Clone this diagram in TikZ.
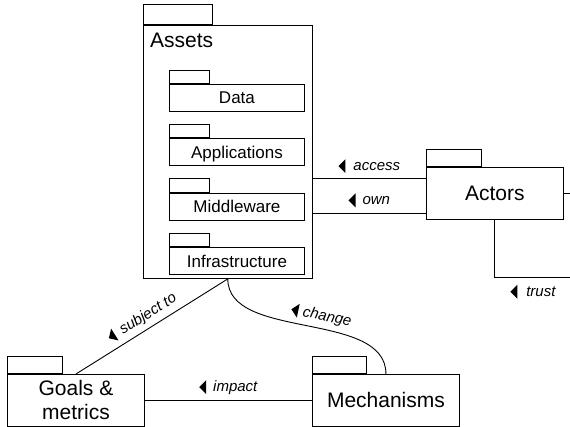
\documentclass[tikz,border=0pt]{standalone}
\usepackage{fontspec}
\setmainfont{Liberation Sans}
\usetikzlibrary{positioning,calc}

%% small filled triangle that shows the reading direction of a relation
\newcommand{\dirmark}{\tikz[baseline=-4.5pt]\fill (0pt,0pt) -- (7pt,7pt) -- (7pt,-7pt) -- cycle;}

\begin{document}
\begin{tikzpicture}[
  x=1pt, y=-1pt,
  pkg/.style={draw=black, line width=0.9pt, fill=white, inner sep=0pt, anchor=north west},
  tab/.style={draw=black, line width=0.9pt, inner sep=0pt, anchor=south west},
  big/.style={font=\fontsize{21}{24}\selectfont, align=center},
  sub/.style={pkg, minimum width=135pt, minimum height=27pt, text height=12pt, text depth=0pt,
              font=\fontsize{17}{20}\selectfont},
  rel/.style={font=\fontsize{15}{18}\selectfont\itshape, inner sep=2pt},
  conn/.style={draw=black, line width=0.9pt},
]
\useasboundingbox (0,0) rectangle (570,427);

%% ---- Assets package ----
\node[pkg, minimum width=168.7pt, minimum height=253pt] (assets) at (143,25) {};
\node[tab, minimum width=69pt, minimum height=20pt] (assetstab) at (assets.north west) {};
\node[big, anchor=base west, inner sep=0pt] (assetslbl) at ([shift={(7,23)}]assets.north west) {Assets};

%% Sub-packages, stacked
\node[sub] (data) at (169,84) {Data};
\node[sub, below=26.5pt of data] (apps) {Applications};
\node[sub, below=26.5pt of apps] (middle) {Middleware};
\node[sub, below=26.5pt of middle] (infra) {Infrastructure};
\foreach \p in {data,apps,middle,infra}
  \node[tab, minimum width=40pt, minimum height=13.5pt] (\p tab) at (\p.north west) {};

%% ---- Actors ----
\node[pkg, big, minimum width=136.7pt, minimum height=52pt] (actors) at (426,167) {Actors};
\node[tab, minimum width=55pt, minimum height=17pt] (actorstab) at (actors.north west) {};

%% ---- Goals & metrics / Mechanisms ----
\node[pkg, big, minimum width=137pt, minimum height=52pt] (goals) at (7,374) {Goals \&\\metrics};
\node[tab, minimum width=55pt, minimum height=17.5pt] (goalstab) at (goals.north west) {};
\node[pkg, big, minimum width=147.6pt, minimum height=52pt] (mech) at (311.7,374) {Mechanisms};
\node[tab, minimum width=54.5pt, minimum height=17pt] (mechtab) at (mech.north west) {};

%% ---- Relations ----
\draw[conn] ([yshift=14.7pt]actors.west) -- ([yshift=14.7pt]actors.west -| assets.east)
  node[midway, above=3.5pt, rel] {\dirmark\hspace{8pt}access};
\draw[conn] ([yshift=-19.7pt]actors.west) -- ([yshift=-19.7pt]actors.west -| assets.east)
  node[midway, above=3.5pt, rel] {\dirmark\hspace{7pt}own};

\coordinate (actout) at (571,192.5);
\draw[conn] (actors.east) -- (actors.east -| actout);

\coordinate (trustout) at (571,277);
\draw[conn] (actors.south) |- (trustout)
  node[pos=0.75, below=5.5pt, rel] {\dirmark\hspace{9pt}trust};

\draw[conn] (goals.north) -- (assets.south)
  node[pos=0.48, sloped, above=3pt, rel] {\dirmark\hspace{7pt}subject to};

\draw[conn] (assets.south) .. controls ($(assets.south)+(0,62)$) and ($(mech.north)+(0,-64)$) .. (mech.north)
  node[pos=0.55, sloped, above=3pt, rel] {\dirmark\hspace{5pt}change};

\draw[conn] (mech.west) -- (goals.east)
  node[midway, above=3.5pt, rel] {\dirmark\hspace{7pt}impact};

\end{tikzpicture}
\end{document}
